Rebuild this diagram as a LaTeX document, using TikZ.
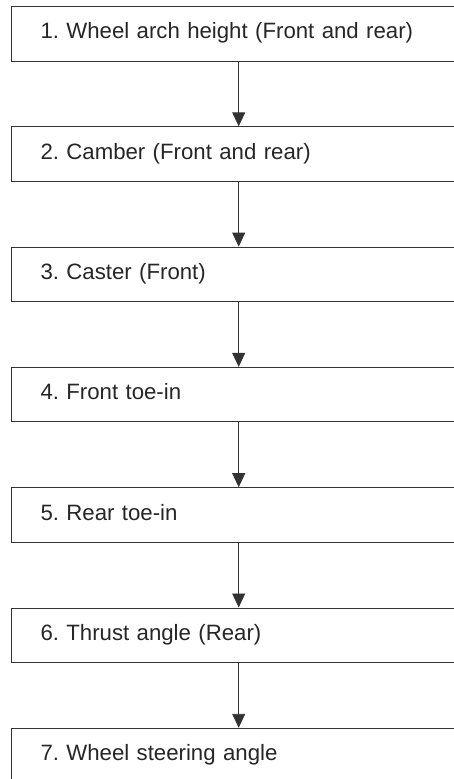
\documentclass[tikz,border=0pt]{standalone}
\usepackage{fontspec}
\setmainfont{Liberation Sans}
\usetikzlibrary{positioning,arrows.meta}
\frenchspacing

\tikzset{
	stepbox/.style={draw=black!80, line width=1pt, rectangle, anchor=north west,
		text width=391pt, inner xsep=29pt, inner ysep=0pt, minimum height=54.5pt,
		align=left, text height=16pt, text depth=5.9pt, text=black!85,
		font=\fontsize{22.2pt}{26pt}\selectfont},
	flow/.style={draw=black!80, line width=0.9pt, -{Triangle[length=14pt,width=13pt]}}
}

\begin{document}
\begin{tikzpicture}
		%\draw [help lines] (0,0) grid (5,5);
		\def\gap{64.8pt}
		% frame
		\clip (0,0) rectangle (454pt,-779pt);
		\useasboundingbox (0,0) rectangle (454pt,-779pt);
		\coordinate (axis) at (238.7pt,0);
		% steps
			\node [stepbox] (s1) at (11pt,-6pt) {1. Wheel arch height (Front and rear)};
			\node [stepbox, below=\gap of s1] (s2) {2. Camber (Front and rear)};
			\node [stepbox, below=\gap of s2] (s3) {3. Caster (Front)};
			\node [stepbox, below=\gap of s3] (s4) {4. Front toe-in};
			\node [stepbox, below=\gap of s4] (s5) {5. Rear toe-in};
			\node [stepbox, below=\gap of s5] (s6) {6. Thrust angle (Rear)};
			\node [stepbox, below=\gap of s6] (s7) {7. Wheel steering angle};
		% arrows
			\foreach \i [count=\j from 2] in {1,...,6}
				\draw [flow] (s\i.south -| axis) -- (s\j.north -| axis);
	\end{tikzpicture}
\end{document}
